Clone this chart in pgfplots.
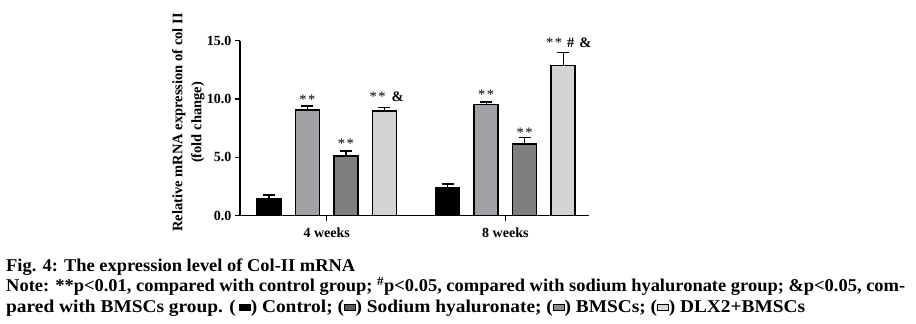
\documentclass[border=0pt]{standalone}
\usepackage{pgfplots}
\pgfplotsset{compat=1.18}
\usepackage{fontspec}
\setmainfont{Liberation Serif}
\definecolor{cSod}{HTML}{A2A2A6}
\definecolor{cBms}{HTML}{7E7E7E}
\definecolor{cDlx}{HTML}{D3D3D3}
\definecolor{lSod}{HTML}{5A5A5A}
\definecolor{lBms}{HTML}{8C8C8C}
\definecolor{lDlx}{HTML}{DADADA}
\newcommand\sym[1]{{\setlength{\fboxrule}{0.9pt}\setlength{\fboxsep}{0pt}\raisebox{2pt}{\fcolorbox{black}{#1}{\rule{0pt}{5pt}\hspace{9pt}}}}}
\newcommand\st{{\mdseries*\hspace{1.5pt}*}}
\begin{document}
\begin{tikzpicture}
\path[use as bounding box] (0pt,0pt) rectangle (916pt,-324pt);
\begin{axis}[
  at={(240pt,-215.7pt)}, anchor=south west,
  scale only axis, width=349pt, height=175pt,
  xmin=-0.485, xmax=1.468, ymin=0, ymax=15,
  axis x line=bottom, axis y line=left,
  axis line style={-, line width=1.5pt},
  xtick={0,1}, xticklabels={4 weeks, 8 weeks},
  ytick={0,5,10,15}, minor tick num=0,
  yticklabel style={/pgf/number format/.cd, fixed, fixed zerofill, precision=1},
  xticklabel style={yshift=-3.5pt},
  /pgf/number format/assume math mode=true,
  tick style={black, line width=1.2pt},
  major tick length=5pt,
  tick align=outside,
  tick label style={font=\fontsize{14}{16}\selectfont\bfseries},
  ylabel={Relative mRNA expression of col II\\(fold change)},
  ylabel style={align=center, font=\fontsize{14.5}{19}\selectfont\bfseries,
    at={(axis description cs:-0.1476,0.5326)}, anchor=center},
  ybar=14.5pt, bar width=24pt,
  clip=false,
  error bars/error bar style={line width=1.2pt, black},
  error bars/error mark options={rotate=90, mark size=6pt, line width=1.2pt, black},
]
\addplot[fill=black, draw=black, line width=1.3pt,
  error bars/.cd, y dir=plus, y explicit]
  coordinates {(0,1.49) +- (0,0.28) (1,2.40) +- (0,0.31)};
\addplot[fill=cSod, draw=black, line width=1.3pt,
  error bars/.cd, y dir=plus, y explicit]
  coordinates {(0,9.06) +- (0,0.34) (1,9.51) +- (0,0.23)};
\addplot[fill=cBms, draw=black, line width=1.3pt,
  error bars/.cd, y dir=plus, y explicit]
  coordinates {(0,5.11) +- (0,0.43) (1,6.14) +- (0,0.55)};
\addplot[fill=cDlx, draw=black, line width=1.3pt,
  error bars/.cd, y dir=plus, y explicit]
  coordinates {(0,8.97) +- (0,0.32) (1,12.86) +- (0,1.11)};
\begin{scope}[every node/.style={font=\fontsize{14.5}{16}\selectfont\bfseries, anchor=base, inner sep=0pt}]
\node at (axis cs:0,9.53) [xshift=-19.25pt] {\st};
\node at (axis cs:0,5.76) [xshift=19.25pt] {\st};
\node at (axis cs:0,9.77) [xshift=60pt] {\st\hspace{6pt}\&};
\node at (axis cs:1,9.92) [xshift=-19.25pt] {\st};
\node at (axis cs:1,6.74) [xshift=19.25pt] {\st};
\node at (axis cs:1,14.43) [xshift=63.5pt] {\st\hspace{5pt}\#\hspace{5pt}\&};
\end{scope}
\end{axis}
\begin{scope}[every node/.style={anchor=base west, inner sep=0pt, font=\fontsize{18}{21}\selectfont\bfseries}]
\node at (6pt,-271pt) {\resizebox{349pt}{\height}{Fig. 4: The expression level of Col-II mRNA}};
\node at (6pt,-291.5pt) {\resizebox{899pt}{\height}{Note: **p<0.01, compared with control group; \textsuperscript{\#}p<0.05, compared with sodium hyaluronate group; \&p<0.05, com-}};
\node at (6pt,-312pt) {\resizebox{799pt}{\height}{pared with BMSCs group. (\,\sym{black}) Control; (\sym{lSod}) Sodium hyaluronate; (\sym{lBms}) BMSCs; (\sym{lDlx}) DLX2+BMSCs}};
\end{scope}
\end{tikzpicture}
\end{document}
